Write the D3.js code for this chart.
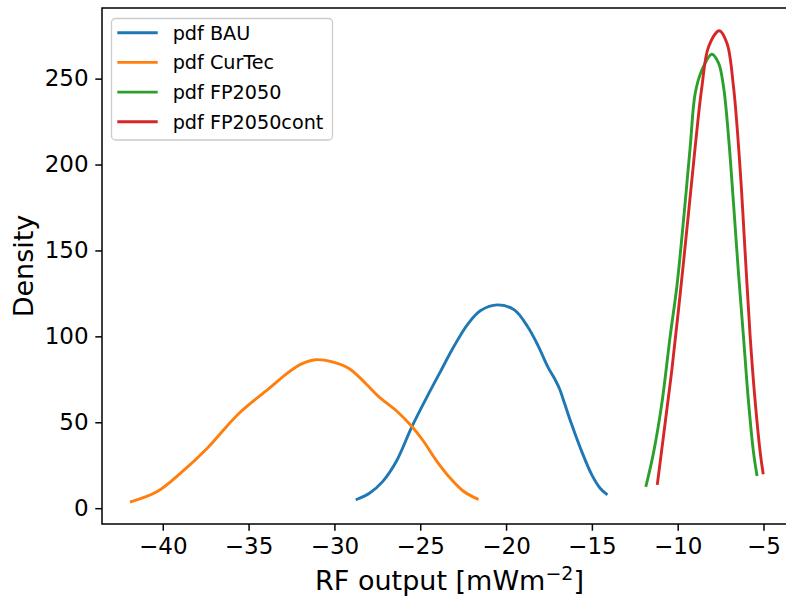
<!DOCTYPE html>
<html><head><meta charset="utf-8">
<script src="https://cdn.jsdelivr.net/npm/d3@7"></script>
<style>html,body{margin:0;padding:0;background:#fff;} svg{display:block;font-family:"DejaVu Sans",sans-serif;}</style>
</head><body>
<svg id="chart" width="786" height="599"></svg>
<script>
const seriesNames = ["pdf BAU", "pdf CurTec", "pdf FP2050", "pdf FP2050cont"];
const seriesColors = ["#1f77b4", "#ff7f0e", "#2ca02c", "#d62728"];

const bauX = [-28.68, -27.96, -27.18, -26.39, -25.51, -24.62, -23.84, -23.05, -22.27, -21.48, -20.50, -19.52, -18.74, -18.15, -17.56, -17.17, -16.88, -16.58, -16.18, -15.60, -15.01, -14.52, -14.16];
const bauY = [5.2, 8.7, 15.6, 27.3, 46.9, 64.5, 79.2, 93.9, 106.6, 115.0, 118.3, 115.4, 105.6, 94.9, 82.1, 75.3, 69.4, 60.6, 48.8, 33.2, 19.5, 11.6, 8.3];

const curX = [-41.83, -40.32, -38.95, -37.38, -35.61, -33.84, -32.66, -31.88, -31.10, -30.12, -29.13, -28.15, -27.37, -26.39, -25.51, -24.82, -24.03, -23.25, -22.46, -21.68];
const curY = [3.8, 9.7, 20.5, 35.2, 54.7, 69.4, 79.2, 84.1, 86.4, 85.1, 81.2, 72.3, 64.5, 56.7, 47.8, 39.1, 27.3, 17.5, 9.7, 5.4];

const fpX = [-11.84, -11.41, -10.92, -10.44, -10.05, -9.66, -9.27, -8.98, -8.59, -8.01, -7.62, -7.33, -7.04, -6.75, -6.46, -6.17, -5.87, -5.58, -5.39];
const fpY = [13.2, 32.2, 61.3, 100.0, 129.0, 167.8, 210.5, 241.5, 255.0, 264.2, 259.0, 245.3, 216.3, 177.5, 136.9, 100.0, 61.3, 32.2, 19.6];

const fpcX = [-11.18, -10.83, -10.34, -9.85, -9.37, -8.98, -8.59, -8.20, -7.58, -7.13, -6.75, -6.36, -6.07, -5.78, -5.48, -5.19, -5.03];
const fpcY = [14.4, 41.9, 80.6, 125.2, 171.7, 210.5, 245.3, 268.6, 277.9, 270.6, 245.3, 196.9, 148.5, 100.0, 61.3, 32.2, 20.6];

const xTicks = [-40, -35, -30, -25, -20, -15, -10, -5];
const yTicks = [0, 50, 100, 150, 200, 250];
const xLabel = "RF output [mWm";
const xLabelSup = "−2";
const yLabel = "Density";

const seriesX = [bauX, curX, fpX, fpcX];
const seriesY = [bauY, curY, fpY, fpcY];

const svg = d3.select("#chart");
const L = 102, T = 8, R = 797, B = 524;
const x = d3.scaleLinear().domain([-43.54, -3.05]).range([L, R]);
const y = d3.scaleLinear().domain([-9.2, 291.1]).range([B, T]);
const fmt = v => (v < 0 ? "\u2212" + Math.abs(v) : String(v));

// curves
const line = d3.line().x(d => x(d[0])).y(d => y(d[1])).curve(d3.curveCatmullRom.alpha(0.5));
seriesNames.forEach((n, i) => {
  const pts = seriesX[i].map((v, j) => [v, seriesY[i][j]]);
  svg.append("path").datum(pts).attr("d", line)
    .attr("fill", "none").attr("stroke", seriesColors[i]).attr("stroke-width", 2.9)
    .attr("stroke-linejoin", "round").attr("stroke-linecap", "square");
});

// axes
const xAxis = d3.axisBottom(x).tickValues(xTicks).tickFormat(fmt).tickSize(6.7).tickPadding(6.7);
const yAxis = d3.axisLeft(y).tickValues(yTicks).tickFormat(fmt).tickSize(6.7).tickPadding(6.7);
const gx = svg.append("g").attr("transform", `translate(0,${B})`).call(xAxis);
const gy = svg.append("g").attr("transform", `translate(${L},0)`).call(yAxis);
[gx, gy].forEach(g => {
  g.select(".domain").remove();
  g.selectAll(".tick line").attr("stroke", "#000").attr("stroke-width", 1.5);
  g.selectAll(".tick text").attr("fill", "#000").style("font-size", "23px").style("font-family", "DejaVu Sans");
});

// frame
svg.append("rect").attr("x", L).attr("y", T).attr("width", R - L).attr("height", B - T)
  .attr("fill", "none").attr("stroke", "#000").attr("stroke-width", 1.5);

// axis labels
const xl = svg.append("text").attr("x", (L + R) / 2).attr("y", 590).attr("text-anchor", "middle")
  .style("font-size", "27px").attr("fill", "#000");
xl.append("tspan").text(xLabel);
xl.append("tspan").attr("dy", -10).style("font-size", "19px").text(xLabelSup);
xl.append("tspan").attr("dy", 10).text("]");

svg.append("text").attr("transform", `translate(33,${(T + B) / 2}) rotate(-90)`)
  .attr("text-anchor", "middle").style("font-size", "27px").attr("fill", "#000").text(yLabel);

// legend
const lg = svg.append("g");
lg.append("rect").attr("x", 111.5).attr("y", 18.5).attr("width", 221).attr("height", 121.5)
  .attr("rx", 4).attr("ry", 4)
  .attr("fill", "#fff").attr("fill-opacity", 0.8).attr("stroke", "#cccccc").attr("stroke-width", 1.3);
seriesNames.forEach((n, i) => {
  const cy = 32.7 + i * 29.7;
  lg.append("line").attr("x1", 117.3).attr("x2", 157.7).attr("y1", cy).attr("y2", cy)
    .attr("stroke", seriesColors[i]).attr("stroke-width", 2.9);
  lg.append("text").attr("x", 172.7).attr("y", cy + 7).style("font-size", "19.2px").attr("fill", "#000").text(n);
});
</script>
</body></html>
